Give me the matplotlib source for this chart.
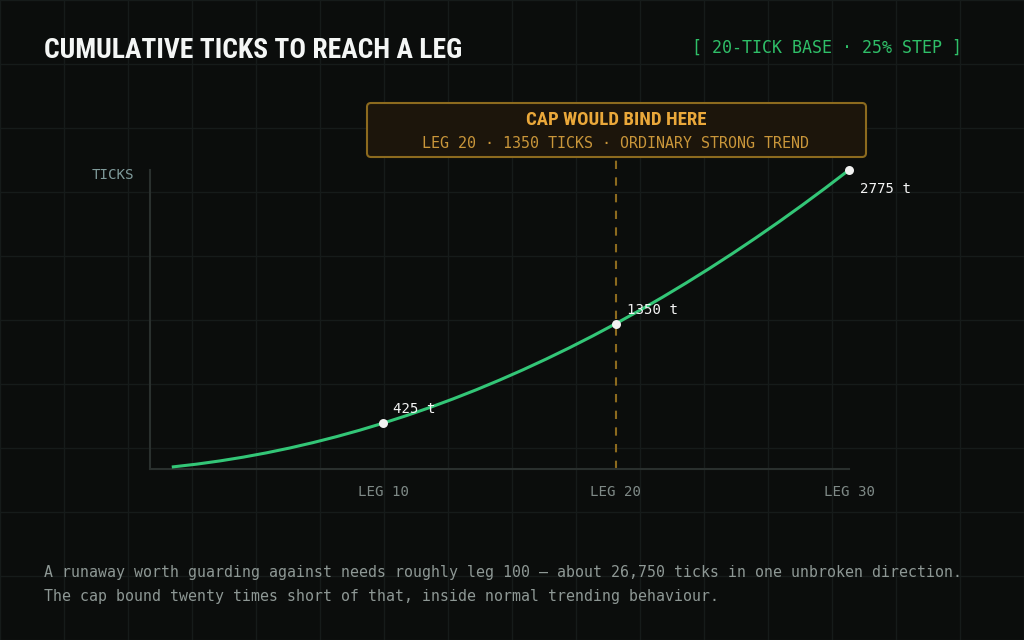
import matplotlib
matplotlib.use("Agg")
import matplotlib.pyplot as plt
from matplotlib.patches import FancyBboxPatch

# ---- data ----
legs = list(range(1, 31))
cum_ticks = [20, 45, 75, 110, 150, 195, 245, 300, 360, 425,
             495, 570, 650, 735, 825, 920, 1020, 1125, 1235, 1350,
             1470, 1595, 1725, 1860, 2000, 2145, 2295, 2450, 2610, 2775]
marked_legs = [10, 20, 30]
marked_ticks = [425, 1350, 2775]
marked_labels = ["425 t", "1350 t", "2775 t"]
xtick_legs = [10, 20, 30]
xtick_labels = ["LEG 10", "LEG 20", "LEG 30"]
cap_leg = 20

title = "CUMULATIVE TICKS TO REACH A LEG"
tag = "[ 20-TICK BASE · 25% STEP ]"
cap_title = "CAP WOULD BIND HERE"
cap_sub = "LEG 20 · 1350 TICKS · ORDINARY STRONG TREND"
footer = ["A runaway worth guarding against needs roughly leg 100 — about 26,750 ticks in one unbroken direction.",
          "The cap bound twenty times short of that, inside normal trending behaviour."]

# ---- style ----
BG = "#0b0d0c"
GRID = "#161b1a"
GREEN = "#33c677"
TAG_GREEN = "#2fbf68"
GOLD_EDGE = "#8c6a1e"
GOLD_FILL = "#1c150b"
GOLD_TITLE = "#eaa83a"
GOLD_SUB = "#c9963a"
AXIS = "#2a302e"
LABEL = "#7f8a87"
FOOT = "#8e9895"
MONO = ["DejaVu Sans Mono"]
COND = ["Roboto Condensed", "Liberation Sans Narrow", "DejaVu Sans"]

W, H = 1024, 640
fig = plt.figure(figsize=(W / 100, H / 100), dpi=100, facecolor=BG)

# background pixel axes
bg = fig.add_axes([0, 0, 1, 1], zorder=0)
bg.set_xlim(0, W)
bg.set_ylim(H, 0)
bg.axis("off")
bg.set_facecolor(BG)
for gx in range(0, W + 1, 64):
    bg.axvline(gx, color=GRID, lw=1, zorder=0)
for gy in range(0, H + 1, 64):
    bg.axhline(gy, color=GRID, lw=1, zorder=0)

# main axes
L, R, T, B = 150, 849, 170, 469
ax = fig.add_axes([L / W, 1 - B / H, (R - L) / W, (B - T) / H], zorder=2)
ax.set_facecolor("none")
ax.set_xlim(0, 30)
ax.set_ylim(0, 2775)
for s in ["top", "right"]:
    ax.spines[s].set_visible(False)
for s in ["left", "bottom"]:
    ax.spines[s].set_color(AXIS)
    ax.spines[s].set_linewidth(1.5)
ax.set_xticks(xtick_legs)
ax.set_xticklabels(xtick_labels, family=MONO, fontsize=10.2, color=LABEL)
ax.tick_params(axis="x", length=0, pad=11.5)
ax.set_yticks([])

ax.axvline(cap_leg, ymin=0, ymax=(B - 157) / (B - T), color=GOLD_EDGE,
           lw=1.5, ls=(0, (4, 4)), clip_on=False, zorder=2)
ax.plot(legs, cum_ticks, color=GREEN, lw=2.2, zorder=3, clip_on=False)
ax.scatter(marked_legs, marked_ticks, s=42, color="#f2f2f2", zorder=4, clip_on=False,
           linewidths=0)
offsets = [(7, 10), (8, 10), (8, -14)]
for lx, ly, lab, off in zip(marked_legs, marked_ticks, marked_labels, offsets):
    ax.annotate(lab, (lx, ly), xytext=off, textcoords="offset points",
                family=MONO, fontsize=10.2, color="#f4f4f4",
                ha="left", va="center", zorder=5, annotation_clip=False)

bg.text(134, 175, "TICKS", family=MONO, fontsize=10.2,
        color="#7f9a9a", ha="right", va="center", zorder=5)

# titles
bg.text(44, 51, title, family=COND, fontweight="bold", fontstretch="condensed",
        fontsize=19.8, color="#f4f6f5", ha="left", va="center", zorder=5)
bg.text(827, 48, tag, family=MONO, fontsize=12, color=TAG_GREEN,
        ha="center", va="center", zorder=5)

# annotation box
box = FancyBboxPatch((367, 103), 866 - 367, 157 - 103,
                     boxstyle="round,pad=0,rounding_size=4",
                     facecolor=GOLD_FILL, edgecolor=GOLD_EDGE, lw=1.5, zorder=6)
bg.add_patch(box)
bg.text(616, 120, cap_title, family=COND, fontweight="bold", fontstretch="condensed",
        fontsize=13.5, color=GOLD_TITLE, ha="center", va="center", zorder=7)
bg.text(616, 143, cap_sub, family=MONO, fontsize=10.8, color=GOLD_SUB,
        ha="center", va="center", zorder=7)

# footer
bg.text(44, 572, footer[0], family=MONO, fontsize=10.7, color=FOOT,
        ha="left", va="center", zorder=5)
bg.text(44, 596, footer[1], family=MONO, fontsize=10.7, color=FOOT,
        ha="left", va="center", zorder=5)

fig.savefig("out.png", dpi=100, facecolor=BG)
